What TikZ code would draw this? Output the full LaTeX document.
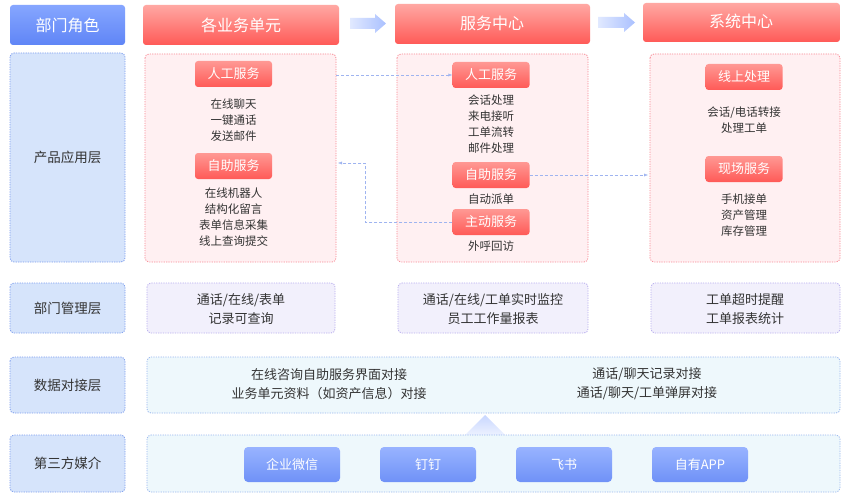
\documentclass[tikz,border=0pt]{standalone}
\usepackage{fontspec}
\setmainfont{Noto Sans CJK SC}
\usetikzlibrary{arrows.meta}
\definecolor{rtop}{HTML}{FFA8A3}\definecolor{rbot}{HTML}{FF5A57}
\definecolor{btop}{HTML}{86A6FF}\definecolor{bbot}{HTML}{5F85F6}
\definecolor{pfill}{HTML}{FFF0F2}\definecolor{pline}{HTML}{F88893}
\definecolor{lfill}{HTML}{D6E4FB}\definecolor{lline}{HTML}{7C9DEE}
\definecolor{mfill}{HTML}{F2F0FC}\definecolor{mline}{HTML}{B8ACEE}
\definecolor{dfill}{HTML}{EEF8FC}\definecolor{dline}{HTML}{98B6EE}
\definecolor{txt}{HTML}{333333}\definecolor{conn}{HTML}{9FB4F0}
\tikzset{
 hdr/.style={rounded corners=3pt,top color=rtop,bottom color=rbot,draw=none},
 bhdr/.style={rounded corners=3pt,top color=btop,bottom color=bbot,draw=none},
 htxt/.style={text=white,font=\fontsize{16}{16}\selectfont},
 dl/.style={line width=0.8pt,dash pattern=on 1.2pt off 1.2pt},
 pbox/.style={rounded corners=4pt,fill=pfill,draw=pline,dl},
 lbox/.style={rounded corners=4pt,fill=lfill,draw=lline,dl},
 mbox/.style={rounded corners=4pt,fill=mfill,draw=mline,dl},
 dbox/.style={rounded corners=4pt,fill=dfill,draw=dline,dl},
 sbtn/.style={rounded corners=3pt,top color=rtop!80!rbot,bottom color=rbot,text=white,font=\fontsize{13}{13}\selectfont,minimum width=77pt,minimum height=26pt,inner sep=0pt},
 mbtn/.style={rounded corners=4pt,top color=btop!85!white,bottom color=bbot!90!white,text=white,font=\fontsize{13}{13}\selectfont,minimum width=96pt,minimum height=35pt,inner sep=0pt},
 body/.style={text=txt,font=\fontsize{11.5}{16}\selectfont,align=center},
 lab/.style={text=txt,font=\fontsize{13.5}{13.5}\selectfont},
 mtxt/.style={text=txt,font=\fontsize{13}{19}\selectfont,align=center},
 con/.style={draw=conn,densely dashed,-{Latex[length=4pt,width=3pt]}},
 harrow/.style={draw=none,left color=btop!25,right color=btop!70}
}
\begin{document}
\begin{tikzpicture}[x=1pt,y=-1pt]
\useasboundingbox[fill=white] (0,0) rectangle (853,500);
% headers
\path[bhdr] (10,5) rectangle (125,45); \node[htxt] (h0) at (67.5,25) {部门角色};
\path[hdr] (143,5) rectangle (339,45); \node[htxt] (h1) at (241,25) {各业务单元};
\path[hdr] (395,4) rectangle (590,44); \node[htxt] (h2) at (492,23) {服务中心};
\path[hdr] (643,3) rectangle (840,42); \node[htxt] (h3) at (741,21) {系统中心};
\path[harrow] (350,18) -- (375,18) -- (375,14) -- (386,23.5) -- (375,33) -- (375,29) -- (350,29) -- cycle;
\path[harrow] (598,17) -- (624,17) -- (624,13) -- (635,22.5) -- (624,32) -- (624,28) -- (598,28) -- cycle;
% left column
\path[lbox] (10,53) rectangle (125,262); \node[lab] (l1) at (67.5,157) {产品应用层};
\path[lbox] (10,283) rectangle (125,333); \node[lab] (l2) at (67.5,308) {部门管理层};
\path[lbox] (10,357) rectangle (125,413); \node[lab] (l3) at (67.5,385) {数据对接层};
\path[lbox] (10,435) rectangle (125,492); \node[lab] (l4) at (67.5,463) {第三方媒介};
% product boxes
\path[pbox] (145,54) rectangle (336,262); \coordinate (p1r) at (336,75); \coordinate (p1m) at (338,163);
\path[pbox] (397,54) rectangle (588,262);
\path[pbox] (650,54) rectangle (840,262); \coordinate (p3l) at (648,175);
% col1
\node[sbtn] (a1) at (233.5,74) {人工服务};
\node[body] (a1t) at (233.5,120) {在线聊天\\一键通话\\发送邮件};
\node[sbtn] (a2) at (233.5,166) {自助服务};
\node[body] (a2t) at (233.5,217) {在线机器人\\结构化留言\\表单信息采集\\线上查询提交};
% col2
\node[sbtn] (b1) at (491,75) {人工服务};
\node[body] (b1t) at (491,124) {会话处理\\来电接听\\工单流转\\邮件处理};
\node[sbtn] (b2) at (491,175) {自助服务};
\node[body] (b2t) at (491,199) {自动派单};
\node[sbtn] (b3) at (491,222) {主动服务};
\node[body] (b3t) at (491,246) {外呼回访};
% col3
\node[sbtn] (c1) at (744,77) {线上处理};
\node[body] (c1t) at (744,120) {会话/电话转接\\处理工单};
\node[sbtn] (c2) at (744,169) {现场服务};
\node[body] (c2t) at (744,215) {手机接单\\资产管理\\库存管理};
% connectors
\draw[con] (p1r) -- (b1.west);
\draw[con] (b2.east) -- (p3l);
\draw[con] (b3.west) -- (365,222) -- (365,163) -- (p1m);
% management
\path[mbox] (147,283) rectangle (335,333); \node[mtxt] (m1) at (241,309) {通话/在线/表单\\记录可查询};
\path[mbox] (398,283) rectangle (588,333); \node[mtxt] (m2) at (493,309) {通话/在线/工单实时监控\\员工工作量报表};
\path[mbox] (651,283) rectangle (840,333); \node[mtxt] (m3) at (745,309) {工单超时提醒\\工单报表统计};
% data
\path[dbox] (147,357) rectangle (840,413);
\node[mtxt] (d1) at (329,384) {在线咨询自助服务界面对接\\业务单元资料（如资产信息）对接};
\node[mtxt] (d2) at (647,384) {通话/聊天记录对接\\通话/聊天/工单弹屏对接};
\path[top color=btop!45,bottom color=btop!15] (485,415) -- (505,435) -- (465,435) -- cycle;
% third party
\path[dbox] (147,435) rectangle (840,492);
\node[mbtn] (t1) at (292,464.5) {企业微信};
\node[mbtn] (t2) at (428,464.5) {钉钉};
\node[mbtn] (t3) at (564,464.5) {飞书};
\node[mbtn] (t4) at (700,464.5) {自有APP};
\end{tikzpicture}
\end{document}
